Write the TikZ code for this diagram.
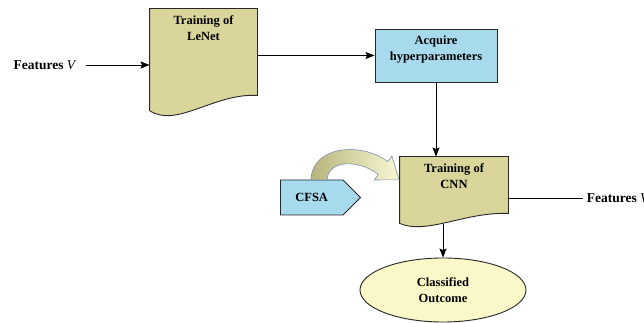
\documentclass[tikz,border=0pt]{standalone}
\usepackage{fontspec}
\setmainfont{Liberation Serif}
\usetikzlibrary{arrows.meta,positioning,calc,shapes.symbols,shapes.geometric}

\definecolor{docfill}{RGB}{217,213,155}
\definecolor{boxblue}{RGB}{168,218,238}
\definecolor{ovalfill}{RGB}{250,247,200}
\definecolor{edgecol}{RGB}{40,40,40}
\definecolor{olivefill}{RGB}{184,180,124}
\definecolor{paleyellow}{RGB}{250,248,212}
\definecolor{arrowedge}{RGB}{125,145,178}

% document shape with wavy bottom, drawn round an empty node
\newcommand{\docshape}[1]{%
  \filldraw[doc line] let \p1=(#1.north east), \p2=(#1.south west) in
    (#1.north west) -- (#1.north east) -- (#1.south east)
    .. controls +({-0.4*(\x1-\x2)},{0.03*(\y1-\y2)}) and +({0.25*(\x1-\x2)},{-0.205*(\y1-\y2)})
    .. ([yshift={-0.175*(\y1-\y2)}]#1.south west) -- cycle;}

\begin{document}
\begin{tikzpicture}[>={Stealth[length=9pt,width=7pt,inset=1.5pt]},x=1pt,y=1pt,line width=0.9pt,
  every node/.style={font=\bfseries\fontsize{12.5}{16}\selectfont,align=center},
  doc node/.style={inner sep=0pt},
  doc line/.style={fill=docfill,draw=edgecol,line width=0.9pt},
  blue box/.style={rectangle,draw=edgecol,fill=boxblue,minimum width=122pt,minimum height=53pt,
    text depth=15pt},
  tag node/.style={signal,signal to=east,signal pointer angle=90,draw=edgecol,fill=boxblue,
    minimum width=80pt,minimum height=35pt},
  outcome node/.style={ellipse,draw=edgecol,fill=ovalfill,minimum width=166pt,minimum height=64pt},
  side label/.style={font=\bfseries\fontsize{13.5}{16}\selectfont},
  bent arrow/.style={left color=olivefill,right color=paleyellow,draw=arrowedge,line width=0.6pt}]

  \useasboundingbox (0,0) rectangle (644,323);

  \node[doc node, minimum width=107pt, minimum height=86pt] (lenet) at (203.5,271) {};
  \docshape{lenet}
  \node[below=3pt of lenet.north] (lenettxt) {Training of\\LeNet};

  \node[blue box] (acq) at (436,267.5) {Acquire\\hyperparameters};

  \node[doc node, minimum width=108pt, minimum height=56pt] (cnn) at (454,138) {};
  \docshape{cnn}
  \node[below=3pt of cnn.north] (cnntxt) {Training of\\CNN};

  \node[tag node, anchor=west] (cfsa) at (280,125.5) {CFSA};
  \node[outcome node] (outcome) at (443,33) {Classified\\Outcome};

  \node[side label] (featL) at (45,258) {Features \textit{\mdseries V}};
  \node[side label, anchor=west] (featR) at (583,125) {Features \textit{\mdseries V}};

  % connectors
  \draw[->,shorten <=6pt] (featL) -- (featL -| lenet.west);
  \draw[->] (lenet.east |- acq.west) -- (acq.west);
  \draw[->] (acq) -- (acq |- cnn.north);
  \draw (cnn.east |- featR.west) -- (featR.west);
  \draw[->,shorten <=11pt] (outcome |- cnn.south) -- (outcome);

  % bent block arrow from CFSA to CNN
  \begin{scope}[shift={(320,143)}]
    \path[bent arrow] (-9,0) .. controls (-8,35) and (42,38) .. (67.7,18.4)
      -- (71.9,24) -- (79,0.2) -- (54.2,0) -- (58.3,5.6)
      .. controls (38,21) and (8,20) .. (7,0) -- cycle;
  \end{scope}
\end{tikzpicture}
\end{document}
